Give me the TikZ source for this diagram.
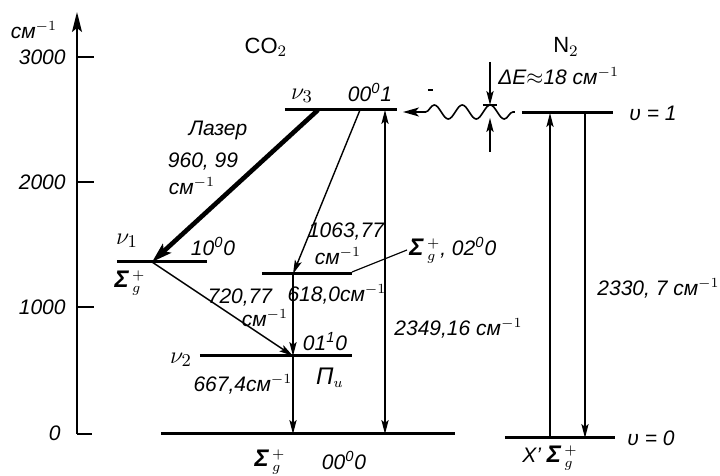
\documentclass[tikz,border=0pt]{standalone}
\usepackage{fontspec}
\setmainfont{Liberation Sans}
\usetikzlibrary{arrows.meta,decorations.pathmorphing}
\newcommand{\cmi}{см$^{-1}$}
\newcommand{\Sgp}{{\large\bfseries Σ}\,$^{+}_{g}$}

\begin{document}
\begin{tikzpicture}[x=0.5pt,y=-0.5pt,
  level/.style={line width=1.5pt},
  trans/.style={line width=0.7pt,-{Stealth[length=7pt,width=3.6pt,inset=1.5pt]}},
  laser/.style={line width=2.3pt,-{Stealth[length=10pt,width=6pt,inset=2pt]}},
  lbl/.style={font=\fontsize{10.5}{12}\selectfont\itshape,inner sep=1pt},
  nulbl/.style={font=\fontsize{13}{15}\selectfont,inner sep=1pt}]
  \useasboundingbox (0,0) rectangle (720,476);

  % Energy axis
  \draw[line width=1pt,-{Stealth[length=10pt,width=5pt,inset=2pt]}] (77,434) -- (77,12);
  \draw[line width=0.8pt] (77,434) -- (92,434);
  \foreach \y/\t in {57/3000,182/2000,307/1000} {
    \draw[line width=0.8pt] (77,\y) -- (94,\y);
    \node[lbl,anchor=east] (t\t) at (68,\y) {\t};
  }
  \node[lbl,anchor=east] (t0) at (63,433) {0};
  \node[lbl] (unit) at (34,30) {\cmi};

  % CO2 levels
  \coordinate (c3l) at (285,110);  \coordinate (c3r) at (397,110);
  \coordinate (c1l) at (117,262);  \coordinate (c1r) at (207,262);
  \coordinate (c2l) at (262,274);  \coordinate (c2r) at (352,274);
  \coordinate (c01l) at (200,356); \coordinate (c01r) at (352,356);
  \coordinate (c0l) at (161,434);  \coordinate (c0r) at (455,434);
  \foreach \a in {c3,c1,c2,c01,c0}
    \draw[level] (\a l) -- (\a r);

  % N2 levels
  \coordinate (n1l) at (522,113); \coordinate (n1r) at (613,113);
  \coordinate (n0l) at (505,438); \coordinate (n0r) at (615,438);
  \draw[level] (n1l) -- (n1r);
  \draw[level] (n0l) -- (n0r);

  % Transitions
  \coordinate (las0) at (318,110); \coordinate (las1) at (152,262);
  \coordinate (a0) at (360,110);   \coordinate (a1) at (293,274);
  \coordinate (a2) at (293,356);   \coordinate (a3) at (293,434);
  \coordinate (b0) at (385,434);   \coordinate (b1) at (385,110);
  \draw[laser] (las0) -- (las1);
  \draw[trans] (a0) -- (a1);
  \draw[trans] (a1) -- (a2);
  \draw[trans] (las1) -- (a2);
  \draw[trans] (a2) -- (a3);
  \draw[trans,{Stealth[length=7pt,width=3.6pt,inset=1.5pt]}-{Stealth[length=7pt,width=3.6pt,inset=1.5pt]}] (b0) -- (b1);

  \coordinate (u0) at (550,438); \coordinate (u1) at (550,113);
  \coordinate (d0) at (585,113); \coordinate (d1) at (585,438);
  \draw[trans] (u0) -- (u1);
  \draw[trans] (d0) -- (d1);

  % Energy transfer N2 -> CO2
  \coordinate (w0) at (515,112); \coordinate (w1) at (403,112);
  \draw[line width=0.8pt,-{Stealth[length=8pt,width=4.5pt,inset=2pt]},decorate,
    decoration={snake,amplitude=3.5pt,segment length=14pt,pre length=1pt,post length=8pt}] (w0) -- (w1);
  \draw[line width=0.6pt] (428,90) -- (433,90);

  % Delta E marks
  \coordinate (de0) at (490,62);  \coordinate (de1) at (490,105);
  \coordinate (de2) at (490,152); \coordinate (de3) at (490,118);
  \draw[trans] (de0) -- (de1);
  \draw[trans] (de2) -- (de3);
  \draw[line width=0.8pt] (483,105) -- (497,105);

  % Labels
  \node[font=\fontsize{11}{13}\selectfont] (co2) at (266,47) {CO$_2$};
  \node[font=\fontsize{11}{13}\selectfont] (n2) at (566,47) {N$_2$};
  \node[lbl,anchor=west] (de) at (496,76) {ΔE$\approx$18 \cmi};
  \node[nulbl] (nu3) at (302,96) {$\nu_3$};
  \node[lbl] (s001) at (370,92) {00\textsuperscript{0}1};
  \node[lbl,anchor=west] (v1) at (627,113) {υ = 1};
  \node[lbl,anchor=west] (v0) at (625,438) {υ = 0};
  \node[lbl] (las) at (218,130) {Лазер};
  \node[lbl] (lasw) at (203,162) {960, 99};
  \node[lbl] (lasu) at (192,186) {\cmi};
  \node[nulbl] (nu1) at (127,241) {$\nu_1$};
  \node[lbl] (s100) at (213,246) {10\textsuperscript{0}0};
  \node[lbl] (sg1) at (130,283) {\Sgp};
  \node[lbl] (aw) at (346,232) {1063,77};
  \node[lbl] (au) at (338,256) {\cmi};
  \coordinate (cl0) at (352,272);
  \node[lbl,anchor=west] (s020) at (407,250) {\Sgp, 02\textsuperscript{0}0};
  \draw[line width=0.6pt] (cl0) -- (s020.west);
  \node[lbl] (bw) at (337,294) {618,0\cmi};
  \node[lbl] (cw) at (240,298) {720,77};
  \node[lbl] (cu) at (265,318) {\cmi};
  \node[lbl] (s010) at (325,342) {01\textsuperscript{1}0};
  \node[nulbl] (nu2) at (181,360) {$\nu_2$};
  \node[lbl] (piu) at (330,378) {{\large Π}$_u$};
  \node[lbl] (dw) at (243,384) {667,4\cmi};
  \node[lbl,anchor=west] (ew) at (392,328) {2349,16 \cmi};
  \node[lbl,anchor=west] (fw) at (595,288) {2330, 7 \cmi};
  \node[lbl] (sg0) at (270,462) {\Sgp};
  \node[lbl] (s000) at (344,460) {00\textsuperscript{0}0};
  \node[lbl] (xs) at (550,458) {X' \Sgp};
\end{tikzpicture}
\end{document}
